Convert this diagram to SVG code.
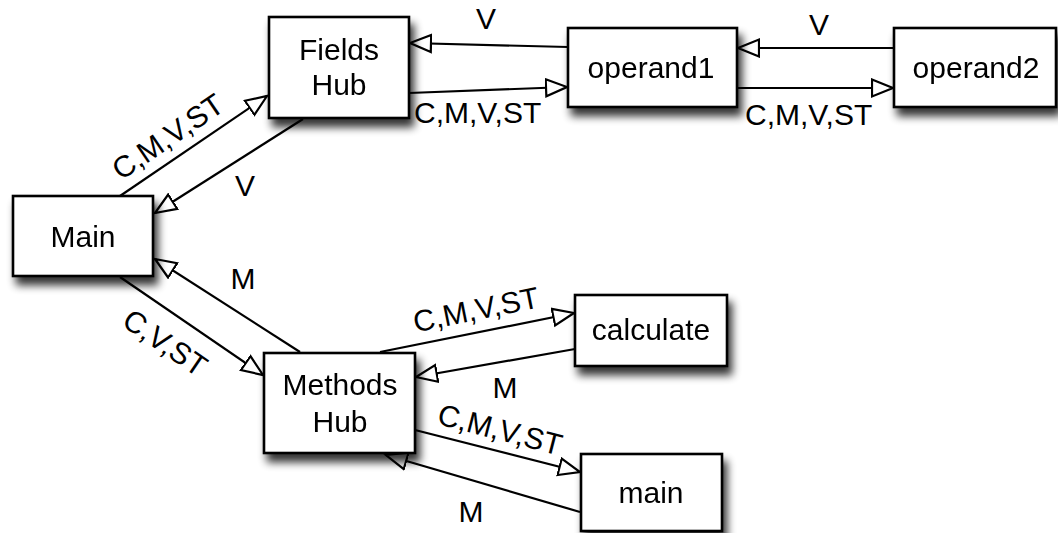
<svg xmlns="http://www.w3.org/2000/svg" width="1058" height="533" viewBox="0 0 1058 533">
  <defs>
    <filter id="shadow" x="-20%" y="-20%" width="150%" height="160%">
      <feGaussianBlur in="SourceAlpha" stdDeviation="4.5"/>
      <feOffset dx="4" dy="8" result="blur"/>
      <feComponentTransfer>
        <feFuncA type="linear" slope="0.8"/>
      </feComponentTransfer>
      <feMerge>
        <feMergeNode/>
        <feMergeNode in="SourceGraphic"/>
      </feMerge>
    </filter>
    <marker id="open" markerUnits="userSpaceOnUse" markerWidth="26" markerHeight="22" refX="22" refY="10" orient="auto">
      <path d="M1,1.5 L22,10 L1,18.5 Z" fill="#fff" stroke="#000" stroke-width="2.2" stroke-linejoin="miter"/>
    </marker>
  </defs>
  <style>
    .box { fill: #fff; stroke: #000; stroke-width: 2.6; }
    .lbl { font-family: "Liberation Sans", Arial, sans-serif; font-size: 30px; fill: #000; }
    .mid { text-anchor: middle; }
    .edge { stroke: #000; stroke-width: 2.2; fill: none; marker-end: url(#open); }
  </style>
  <rect width="1058" height="533" fill="#fff"/>

  <!-- connectors -->
  <g id="connectors">
    <line class="edge" x1="120" y1="196" x2="267" y2="96"/>
    <line class="edge" x1="303" y1="119" x2="155" y2="213"/>
    <line class="edge" x1="568" y1="47" x2="410" y2="43"/>
    <line class="edge" x1="409" y1="93" x2="567" y2="87"/>
    <line class="edge" x1="894" y1="48" x2="738" y2="48"/>
    <line class="edge" x1="737" y1="88" x2="893" y2="88"/>
    <line class="edge" x1="120" y1="277" x2="263" y2="375"/>
    <line class="edge" x1="300" y1="352" x2="155" y2="259"/>
    <line class="edge" x1="380" y1="352" x2="574" y2="313"/>
    <line class="edge" x1="575" y1="349" x2="416" y2="377"/>
    <line class="edge" x1="415" y1="430" x2="580" y2="472"/>
    <line class="edge" x1="580" y1="512" x2="386" y2="455"/>

    <text class="lbl mid" transform="translate(168,137) rotate(-34.2)" y="10">C,M,V,ST</text>
    <text class="lbl mid" x="245" y="196">V</text>
    <text class="lbl mid" x="486" y="29">V</text>
    <text class="lbl" x="414" y="123">C,M,V,ST</text>
    <text class="lbl mid" x="819" y="35">V</text>
    <text class="lbl" x="745" y="125">C,M,V,ST</text>
    <text class="lbl mid" transform="translate(165,343) rotate(34.3)" y="10">C,V,ST</text>
    <text class="lbl mid" x="243" y="289">M</text>
    <text class="lbl mid" transform="translate(476,310) rotate(-11.4)" y="10">C,M,V,ST</text>
    <text class="lbl mid" x="505" y="398">M</text>
    <text class="lbl mid" transform="translate(500,430) rotate(14.5)" y="10">C,M,V,ST</text>
    <text class="lbl mid" x="471" y="522">M</text>
  </g>

  <!-- nodes -->
  <g id="fields-hub" filter="url(#shadow)">
    <rect class="box" x="269" y="17" width="140" height="101"/>
    <text class="lbl mid" x="339" y="60">Fields</text>
    <text class="lbl mid" x="339" y="95">Hub</text>
  </g>
  <g id="operand1" filter="url(#shadow)">
    <rect class="box" x="568" y="28" width="169" height="79"/>
    <text class="lbl mid" x="651" y="78">operand1</text>
  </g>
  <g id="operand2" filter="url(#shadow)">
    <rect class="box" x="894" y="28" width="162" height="79"/>
    <text class="lbl mid" x="976" y="78">operand2</text>
  </g>
  <g id="main-node" filter="url(#shadow)">
    <rect class="box" x="13" y="196" width="140" height="80"/>
    <text class="lbl mid" x="83" y="247">Main</text>
  </g>
  <g id="methods-hub" filter="url(#shadow)">
    <rect class="box" x="264" y="353" width="151" height="100"/>
    <text class="lbl mid" x="340" y="395">Methods</text>
    <text class="lbl mid" x="340" y="432">Hub</text>
  </g>
  <g id="calculate" filter="url(#shadow)">
    <rect class="box" x="575" y="295" width="152" height="71"/>
    <text class="lbl mid" x="651" y="340">calculate</text>
  </g>
  <g id="main-method" filter="url(#shadow)">
    <rect class="box" x="581" y="454" width="141" height="77"/>
    <text class="lbl mid" x="651" y="503">main</text>
  </g>
</svg>
